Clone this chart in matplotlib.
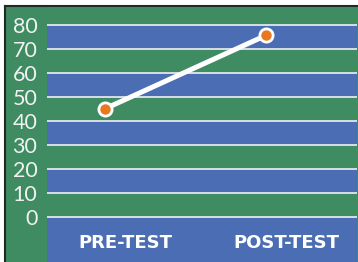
import matplotlib.pyplot as plt
from matplotlib.transforms import offset_copy
from matplotlib.patches import Rectangle

categories = ["PRE-TEST", "POST-TEST"]
scores = [45, 75.5]
y_ticks = [0, 10, 20, 30, 40, 50, 60, 70, 80]

green = "#3F8C62"
blue = "#4B6DB4"
orange = "#E8781F"

fig = plt.figure(figsize=(3.58, 2.62), dpi=100)
W, H = 358, 262

# outer green panel with dark left/top edge
fig.patches.append(Rectangle((5 / W, 0), 1 - 5 / W, 1 - 6 / H, transform=fig.transFigure,
                             facecolor=green, edgecolor="none", zorder=-5))
fig.add_artist(plt.Line2D([5 / W, 5 / W], [0, 1 - 6 / H], color="#1f2a24", lw=1.5,
                          transform=fig.transFigure, zorder=-4))
fig.add_artist(plt.Line2D([5 / W, 1], [1 - 6 / H, 1 - 6 / H], color="#1f2a24", lw=1.5,
                          transform=fig.transFigure, zorder=-4))

ax = fig.add_axes([47 / W, 0, 310 / W, 1 - 6.5 / H])
ax.set_zorder(1)
ax.set_facecolor(green)

# alternating bands: blue between 70-80, 50-60, ... and below zero
ax.axhspan(-100, y_ticks[0], color=blue, lw=0, zorder=0)
for lo, hi in zip(y_ticks[1::2], y_ticks[2::2]):
    ax.axhspan(lo, hi, color=blue, lw=0, zorder=0)
for y in y_ticks:
    ax.axhline(y, color="#EEF0F5", lw=1.2, zorder=1)

x = list(range(len(categories)))
ax.plot(x, scores, color="white", lw=3.6, zorder=2, solid_capstyle="round")
ax.plot(x, scores, "o", ms=9.5, mfc=orange, mec="white", mew=2, zorder=3)

ax.set_xlim(-0.36, 1.565)
ax.set_ylim(-18.7, 87.5)
ax.set_yticks(y_ticks)
ax.set_yticklabels([str(v) for v in y_ticks], fontfamily="Lato", fontsize=15.5, color="#F2F2F2")
ax.tick_params(axis="y", length=0, pad=7)
ax.set_xticks([])
for s in ax.spines.values():
    s.set_visible(False)

trans = offset_copy(ax.get_xaxis_transform(), fig=fig, x=20, y=0, units="dots")
for xi, lab in zip(x, categories):
    ax.text(xi, 0.075, lab, transform=trans, ha="center", va="center", color="white",
            fontsize=13, fontweight="bold", fontfamily="DejaVu Sans")

fig.savefig("out.png", dpi=100)
